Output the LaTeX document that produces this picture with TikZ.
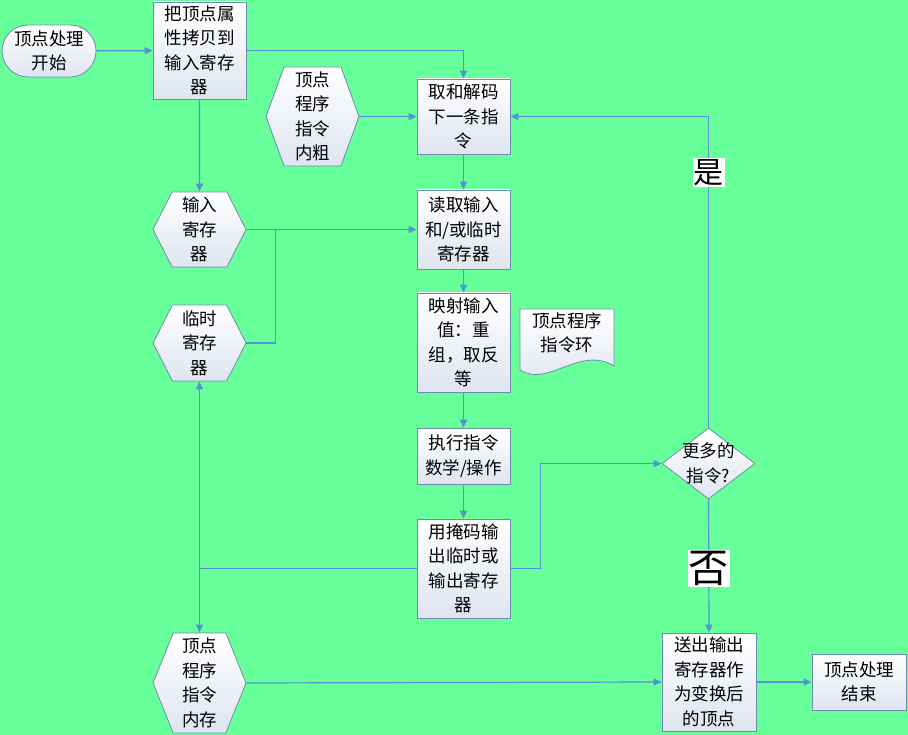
\documentclass[tikz,border=0pt]{standalone}
\usepackage{fontspec}
\setmainfont{Noto Sans CJK SC}
\usetikzlibrary{arrows.meta,shapes.geometric,shapes.symbols}
\definecolor{bggreen}{RGB}{102,255,153}
\definecolor{linkblue}{RGB}{84,146,208}
\definecolor{boxline}{RGB}{110,140,175}
\definecolor{boxshade}{RGB}{222,229,239}
\begin{document}
\begin{tikzpicture}[x=1pt,y=-1pt,
      every node/.style={font=\fontsize{17.5}{24.5}\selectfont,align=center},
      box/.style={draw=boxline,thick,top color=white,bottom color=boxshade,
        rectangle,minimum width=93pt,inner sep=0pt},
      hexa/.style={draw=boxline,thick,top color=white,bottom color=boxshade,
        signal,signal to=west and east,signal pointer angle=#1,
        minimum width=93pt,inner sep=0pt},
      link/.style={draw=linkblue,line width=1.2pt},
      arr/.style={link,-{Triangle[length=8pt,width=7pt]}},
      tag/.style={fill=white,inner sep=1pt,font=\fontsize{#1}{#1}\selectfont},
      ]
        \fill [bggreen] (0,0) rectangle (908,735);
        \useasboundingbox (0,0) rectangle (908,735);

        \node [box,rounded corners=26pt,minimum width=94pt,minimum height=52pt]
          (start) at (49,51) {顶点处理\\开始};
        \node [box,minimum height=97pt] (copy) at (199.5,50.5)
          {把顶点属\\性拷贝到\\输入寄存\\器};
        \node [box,minimum height=75pt] (fetch) at (463.5,116.5)
          {取和解码\\下一条指\\令};
        \node [hexa=140,minimum height=99pt] (progcache) at (312.5,116.5)
          {顶点\\程序\\指令\\内粗};
        \node [hexa=126,minimum height=75pt] (inreg) at (199.5,229.5)
          {输入\\寄存\\器};
        \node [box,minimum height=79pt] (read) at (463.5,229.5)
          {读取输入\\和/或临时\\寄存器};
        \node [hexa=126,minimum height=76pt] (tmpreg) at (199.5,343)
          {临时\\寄存\\器};
        \node [box,minimum height=99pt] (map) at (463.5,342.5)
          {映射输入\\值：重\\组，取反\\等};
        \node [box,minimum height=56pt] (exec) at (463.5,456)
          {执行指令\\数学/操作};
        \node [box,minimum height=99pt] (mask) at (463.5,568.5)
          {用掩码输\\出临时或\\输出寄存\\器};
        \node [hexa=136,minimum height=100pt] (progmem) at (199.5,683)
          {顶点\\程序\\指令\\内存};
        \node [box,minimum width=94pt,minimum height=98pt] (send) at (709,682)
          {送出输出\\寄存器作\\为变换后\\的顶点};
        \node [box,minimum width=94pt,minimum height=56pt] (finish) at (859,682)
          {顶点处理\\结束};

        \node [diamond,draw=boxline,thick,top color=white,bottom color=boxshade,
          minimum width=93pt,minimum height=71pt,inner sep=0pt]
          (more) at (708.5,463.5) {};
        \node (moretext) at (more) {更多的\\指令?};

        \path [draw=boxline,thick,top color=white,bottom color=boxshade]
          (520,309) coordinate (D) -- (614,309) -- (614,366)
          .. controls (580,345) and (548,388) .. (520,370) -- cycle;
        \node (loop) at (567,333) {顶点程序\\指令环};

        \draw [arr] (start) -- (copy);
        \draw [arr] (copy.east) -| (fetch.north);
        \draw [arr] (progcache.east) -- (fetch.west);
        \draw [arr] (fetch) -- (read);
        \draw [arr] (read) -- (map);
        \draw [arr] (map) -- (exec);
        \draw [arr] (exec) -- (mask);
        \draw [arr] (copy) -- (inreg);
        \draw [arr] (inreg.east) -- (read.west);
        \coordinate (tmpjoin) at ([xshift=29pt]inreg.east);
        \draw [link] (tmpreg.east) -| (tmpjoin);
        \draw [arr] (mask.east) -- ++(30pt,0) |- (more.west);
        \coordinate (outjoin) at (tmpreg.south |- mask.west);
        \draw [link] (mask.west) -- (outjoin);
        \draw [arr] (outjoin) -- (tmpreg.south);
        \draw [arr] (outjoin) -- (progmem.north);
        \draw [arr] (more.north) |- (fetch.east)
          node [tag=30,pos=0.41] (yes) {是};
        \draw [arr] (more.south) -- (send.north)
          node [tag=40,pos=0.52] (no) {否};
        \draw [arr] (progmem.east) -- (send.west);
        \draw [arr] (send) -- (finish);
      \end{tikzpicture}
\end{document}
